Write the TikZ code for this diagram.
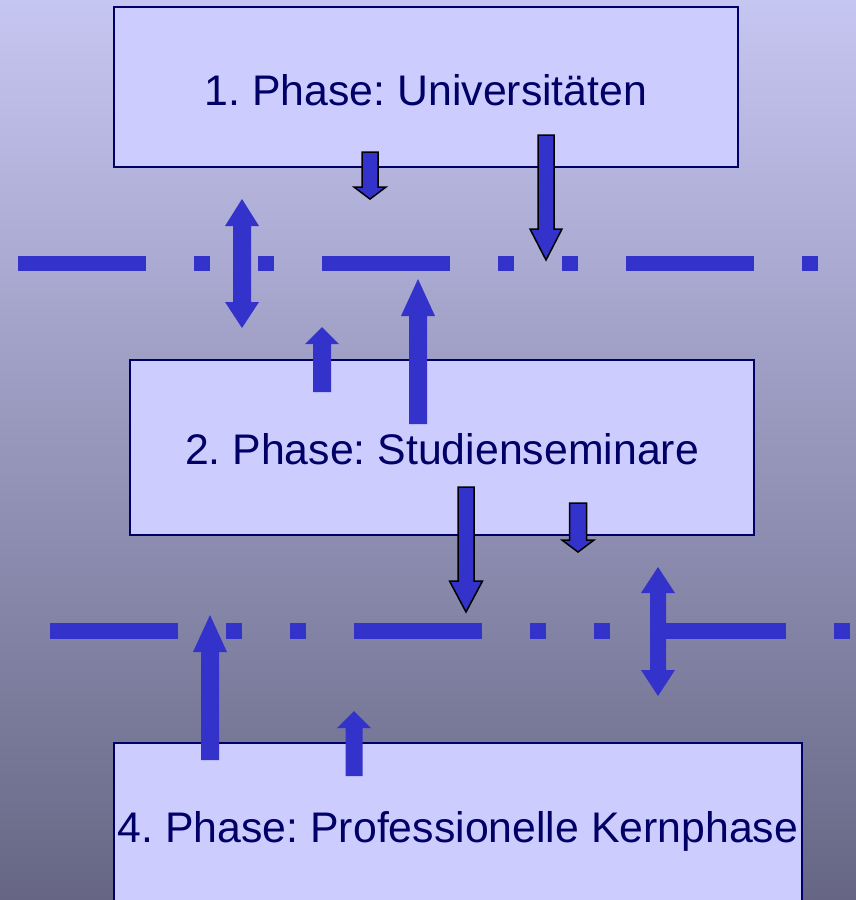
\documentclass[tikz,border=0pt]{standalone}
\usepackage{fontspec}
\setmainfont{Liberation Sans}
\frenchspacing
\definecolor{boxfill}{RGB}{204,204,255}
\definecolor{navy}{RGB}{0,0,102}
\definecolor{arrowblue}{RGB}{51,51,204}
\definecolor{bgtop}{RGB}{198,198,242}
\definecolor{bgbot}{RGB}{102,102,132}
% style, cx, start, base, tip, shaft half width, head half width
\newcommand{\blockarrow}[7]{%
  \path[#1] ({#2-#6},#3) -- ({#2+#6},#3) -- ({#2+#6},#4) -- ({#2+#7},#4) -- (#2,#5)
    -- ({#2-#7},#4) -- ({#2-#6},#4) -- cycle;}
% style, cx, tip1, base1, base2, tip2, shaft half width, head half width
\newcommand{\dblarrow}[8]{%
  \path[#1] (#2,#3) -- ({#2+#8},#4) -- ({#2+#7},#4) -- ({#2+#7},#5) -- ({#2+#8},#5)
    -- (#2,#6) -- ({#2-#8},#5) -- ({#2-#7},#5) -- ({#2-#7},#4) -- ({#2-#8},#4) -- cycle;}
\tikzset{
  phasebox/.style={draw=navy, line width=2pt, fill=boxfill, text=navy,
    font=\fontsize{42.8}{48}\selectfont, inner sep=0pt, text depth=0pt},
  arrowout/.style={fill=arrowblue, draw=black, line width=1.5pt, line join=miter},
  arrowin/.style={fill=arrowblue},
  phaseline/.style={draw=arrowblue, line width=15pt,
    dash pattern=on 128pt off 48pt on 16pt off 48pt on 16pt off 48pt}
}
\begin{document}
\begin{tikzpicture}[x=1pt,y=-1pt]
\useasboundingbox (0,0) rectangle (856,900);
\shade[top color=bgtop, bottom color=bgbot] (0,0) rectangle (856,900);
% dash-dot lines
\coordinate (l1a) at (18,263.5);
\coordinate (l1b) at (818,263.5);
\coordinate (l2a) at (50,631);
\coordinate (l2b) at (850,631);
\draw[phaseline] (l1a) -- (l1b);
\draw[phaseline, line width=16pt] (l2a) -- (l2b);
% boxes
\node[phasebox, minimum width=624pt, minimum height=160pt, text height=37pt] (p1) at (426,87) {1. Phase: Universitäten};
\node[phasebox, minimum width=624pt, minimum height=175pt, text height=33pt] (p2) at (442,447.5) {2. Phase: Studienseminare};
\node[phasebox, minimum width=688pt, minimum height=177pt, text height=21pt] (p4) at (458,831.5) {4. Phase: Professionelle Kernphase};
% arrows between phase 1 and line 1
\blockarrow{arrowout}{370}{152}{187}{199}{8}{16}
\blockarrow{arrowout}{546}{135}{229}{260}{8}{16}
\dblarrow{arrowin}{242}{199}{226}{302}{328}{9}{17}
\blockarrow{arrowin}{322}{392}{344}{327}{9}{17}
\blockarrow{arrowin}{418}{424}{316}{279}{9}{17}
% arrows between phase 2 and line 2
\blockarrow{arrowout}{466}{487}{581}{612}{8}{16.5}
\blockarrow{arrowout}{578}{503}{540}{552}{8.5}{16}
\dblarrow{arrowin}{658}{567}{593}{670}{696}{8}{17}
\blockarrow{arrowin}{210}{760}{652}{615}{9}{17}
\blockarrow{arrowin}{354}{776}{728}{711}{8.5}{17}
\end{tikzpicture}
\end{document}
